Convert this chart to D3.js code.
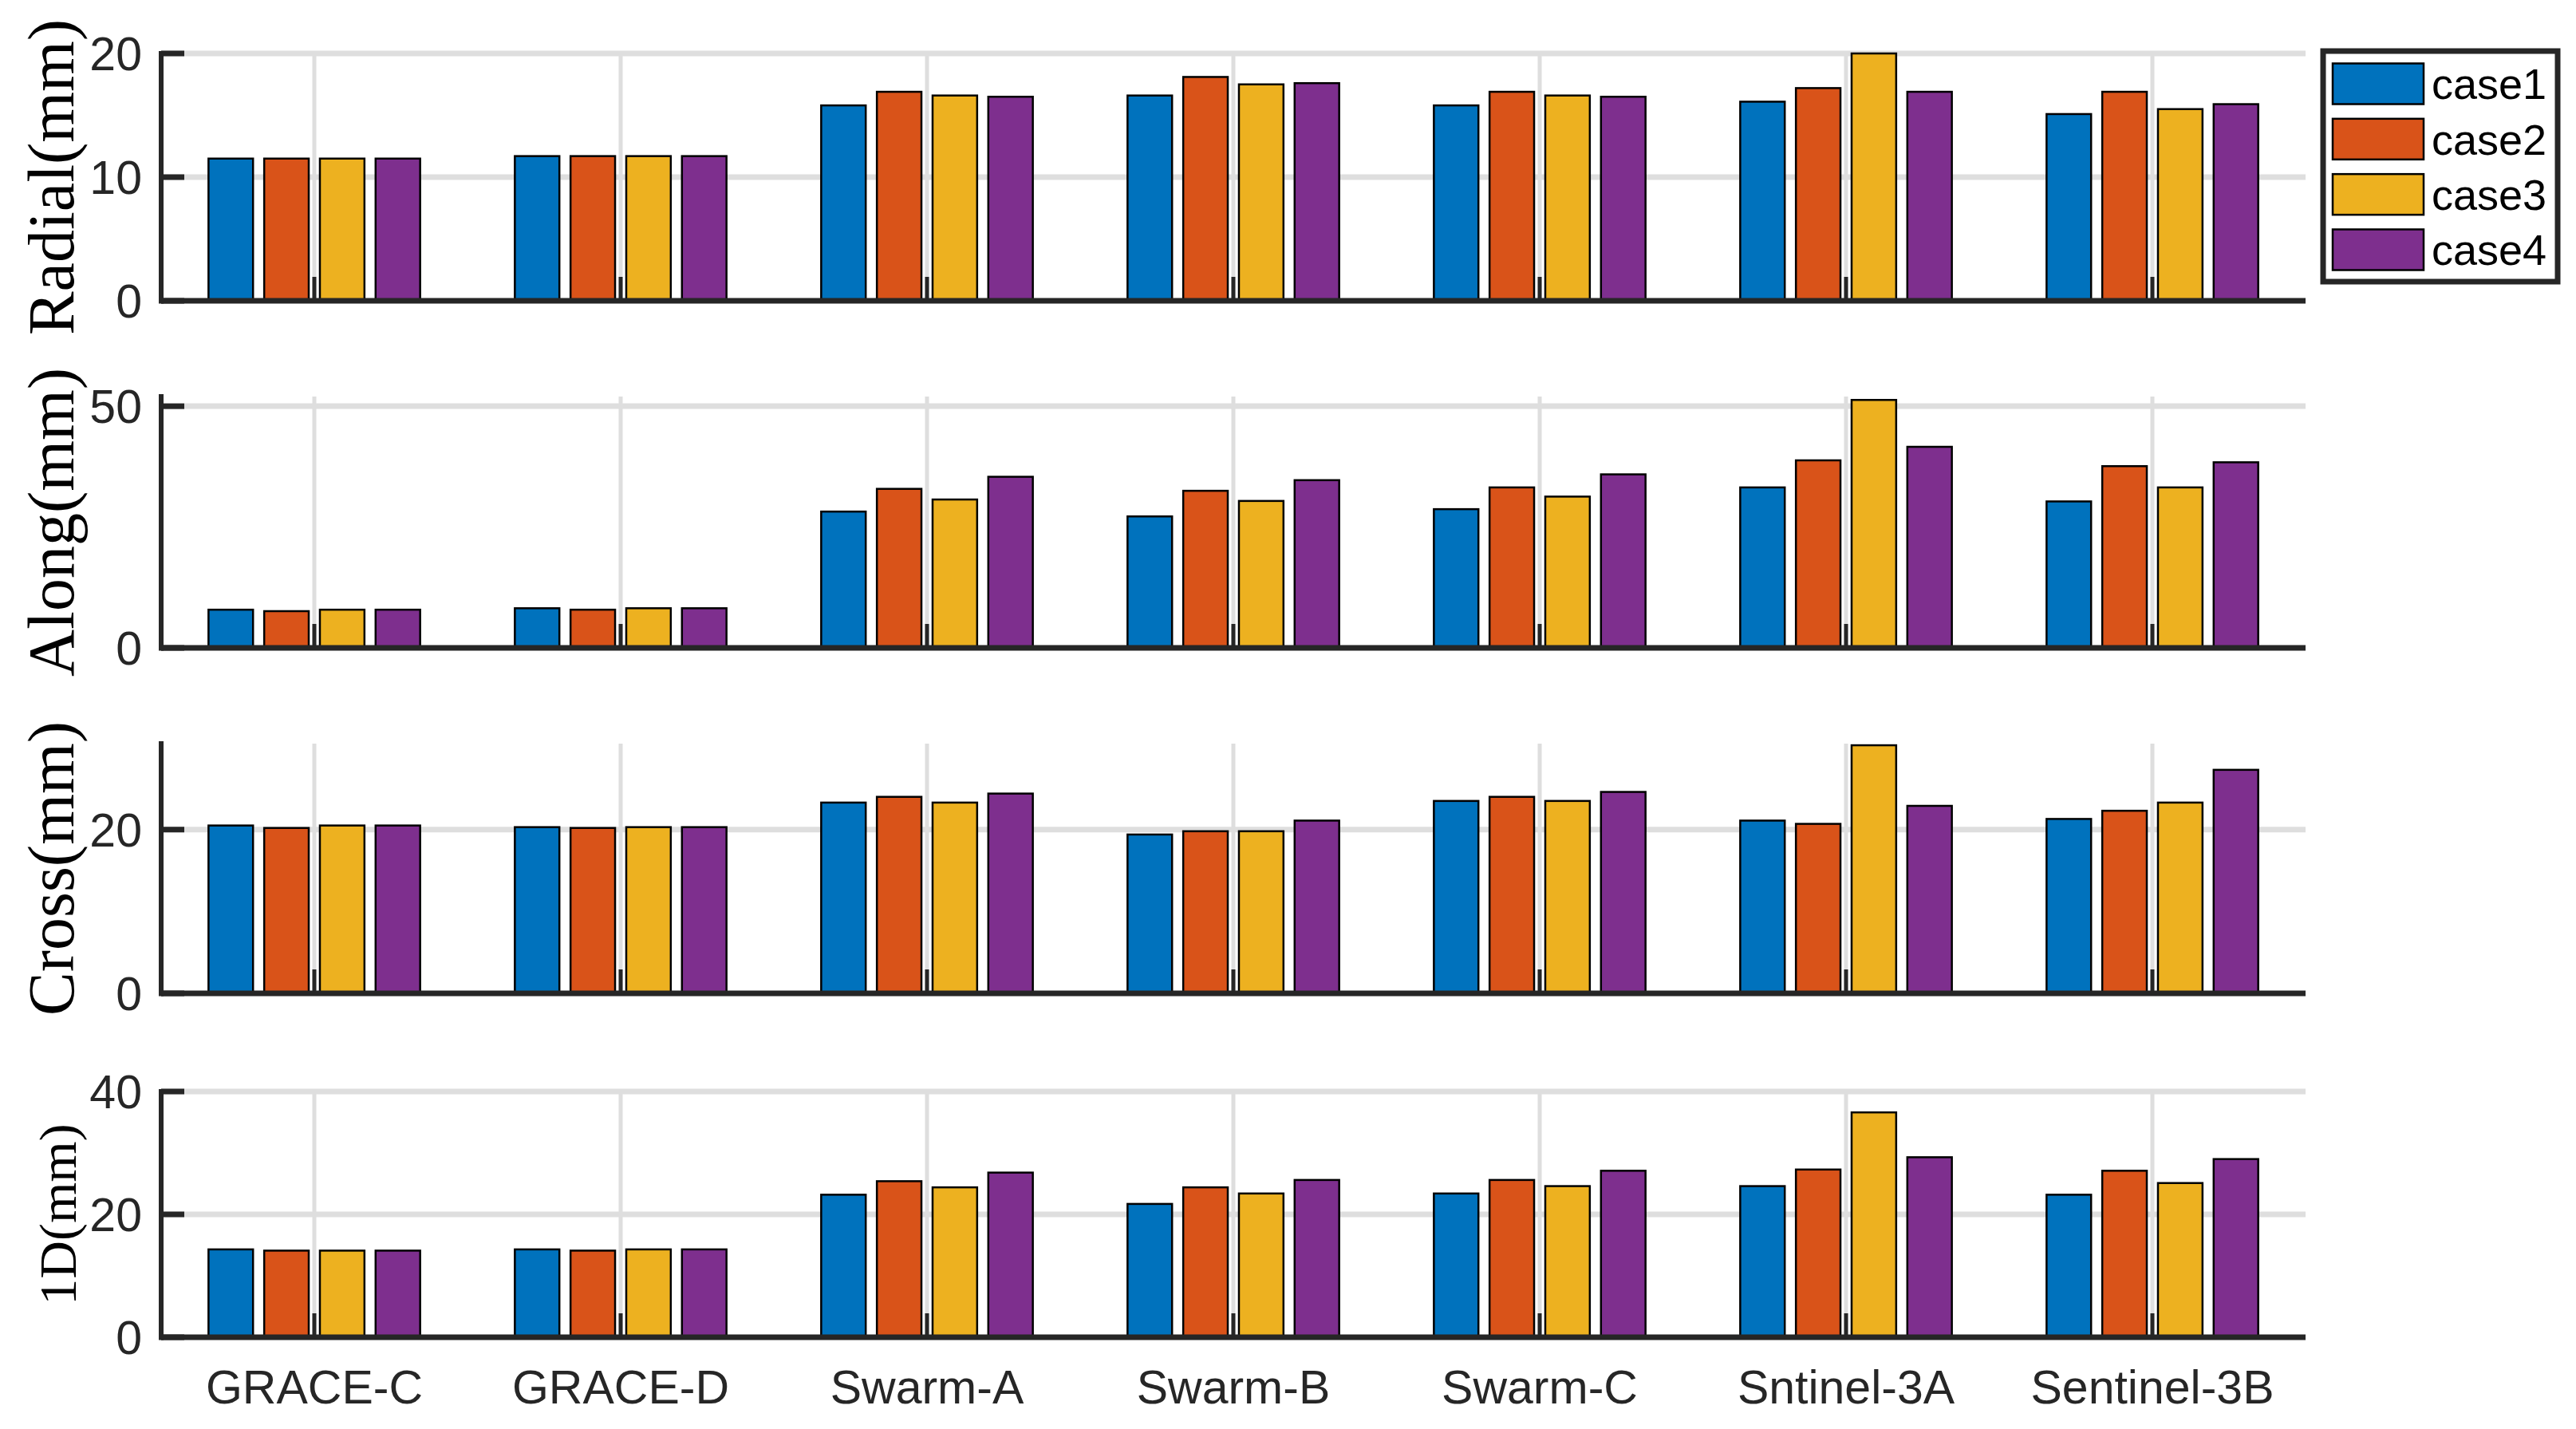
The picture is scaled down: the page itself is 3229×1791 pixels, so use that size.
<!DOCTYPE html>
<html>
<head>
<meta charset="utf-8">
<script src="https://cdn.jsdelivr.net/npm/d3@7/dist/d3.min.js"></script>
<style>
  html, body { margin: 0; padding: 0; background: #fff; }
  svg { display: block; }
</style>
</head>
<body>
<svg id="chart" width="3229" height="1791"></svg>
<script>
// ---------------- data ----------------
const satellites = ["GRACE-C", "GRACE-D", "Swarm-A", "Swarm-B", "Swarm-C", "Sntinel-3A", "Sentinel-3B"];
const cases = ["case1", "case2", "case3", "case4"];

// values per satellite, [case1, case2, case3, case4]
const radial = [
  [11.5, 11.5, 11.5, 11.5],
  [11.7, 11.7, 11.7, 11.7],
  [15.8, 16.9, 16.6, 16.5],
  [16.6, 18.1, 17.5, 17.6],
  [15.8, 16.9, 16.6, 16.5],
  [16.1, 17.2, 20.0, 16.9],
  [15.1, 16.9, 15.5, 15.9]
];
const along = [
  [7.9, 7.6, 7.9, 7.9],
  [8.2, 7.9, 8.2, 8.2],
  [28.2, 32.9, 30.7, 35.4],
  [27.2, 32.5, 30.4, 34.7],
  [28.7, 33.2, 31.3, 35.9],
  [33.2, 38.8, 51.3, 41.6],
  [30.3, 37.6, 33.2, 38.4]
];
const cross = [
  [20.5, 20.2, 20.5, 20.5],
  [20.3, 20.2, 20.3, 20.3],
  [23.3, 24.0, 23.3, 24.4],
  [19.4, 19.8, 19.8, 21.1],
  [23.5, 24.0, 23.5, 24.6],
  [21.1, 20.7, 30.3, 22.9],
  [21.3, 22.3, 23.3, 27.3]
];
const oneD = [
  [14.3, 14.1, 14.1, 14.1],
  [14.3, 14.1, 14.3, 14.3],
  [23.2, 25.4, 24.4, 26.8],
  [21.7, 24.4, 23.4, 25.6],
  [23.4, 25.6, 24.6, 27.1],
  [24.6, 27.3, 36.6, 29.3],
  [23.2, 27.1, 25.1, 29.0]
];

const radialTicks = [0, 10, 20];
const alongTicks = [0, 50];
const crossTicks = [0, 20];
const oneDTicks = [0, 20, 40];

const panelLabels = ["Radial(mm)", "Along(mm)", "Cross(mm)", "1D(mm)"];
const colors = ["#0072BD", "#D95319", "#EDB120", "#7E2F8E"];

// ---------------- layout ----------------
const svg = d3.select("#chart");
const axisColor = "#262626";
const gridColor = "#dedede";

const x = d3.scaleLinear().domain([0.5, satellites.length + 0.5]).range([202, 2890]);
const groupWidth = (x(2) - x(1)) * 0.7273;
const inner = d3.scaleBand().domain(cases)
  .range([-groupWidth / 2, groupWidth / 2])
  .paddingInner(0.2).paddingOuter(0.1);

const panels = [
  { data: radial, ticks: radialTicks, domain: [0, 20],   range: [377, 67],   label: panelLabels[0], lsize: 82, lx: 92 },
  { data: along,  ticks: alongTicks,  domain: [0, 52],   range: [812, 497],  label: panelLabels[1], lsize: 82, lx: 92 },
  { data: cross,  ticks: crossTicks,  domain: [0, 30.5], range: [1245, 932], label: panelLabels[2], lsize: 82, lx: 92 },
  { data: oneD,   ticks: oneDTicks,   domain: [0, 40],   range: [1676, 1368],label: panelLabels[3], lsize: 66, lx: 95 }
];

panels.forEach((p, pi) => {
  const y = d3.scaleLinear().domain(p.domain).range(p.range);
  const g = svg.append("g");
  const x0 = x.range()[0], x1 = x.range()[1];
  const yTop = y(p.domain[1]), yBot = y(0);

  // horizontal grid
  g.append("g").selectAll("line").data(p.ticks.filter(t => t > 0)).join("line")
    .attr("x1", x0).attr("x2", x1)
    .attr("y1", d => y(d)).attr("y2", d => y(d))
    .attr("stroke", gridColor).attr("stroke-width", 7);

  // vertical grid
  g.append("g").selectAll("line").data(satellites).join("line")
    .attr("x1", (d, i) => x(i + 1)).attr("x2", (d, i) => x(i + 1))
    .attr("y1", yTop).attr("y2", yBot)
    .attr("stroke", gridColor).attr("stroke-width", 5);

  // bars
  const groups = g.append("g").selectAll("g").data(p.data).join("g")
    .attr("transform", (d, i) => `translate(${x(i + 1)},0)`);
  groups.selectAll("rect").data(d => d.map((v, k) => ({ v, k }))).join("rect")
    .attr("x", d => inner(cases[d.k]))
    .attr("width", inner.bandwidth())
    .attr("y", d => y(d.v))
    .attr("height", d => yBot - y(d.v))
    .attr("fill", d => colors[d.k])
    .attr("stroke", "#000").attr("stroke-width", 2.5);

  // x-axis small ticks (inward)
  g.append("g").selectAll("line").data(satellites).join("line")
    .attr("x1", (d, i) => x(i + 1)).attr("x2", (d, i) => x(i + 1))
    .attr("y1", yBot).attr("y2", yBot - 30)
    .attr("stroke", axisColor).attr("stroke-width", 5);

  // axes lines
  g.append("line").attr("x1", x0).attr("x2", x1).attr("y1", yBot).attr("y2", yBot)
    .attr("stroke", axisColor).attr("stroke-width", 7);
  g.append("line").attr("x1", x0).attr("x2", x0).attr("y1", yTop - 3).attr("y2", yBot + 3.5)
    .attr("stroke", axisColor).attr("stroke-width", 6);

  // y ticks (inward) and labels
  g.append("g").selectAll("line").data(p.ticks).join("line")
    .attr("x1", x0).attr("x2", x0 + 29)
    .attr("y1", d => y(d)).attr("y2", d => y(d))
    .attr("stroke", axisColor).attr("stroke-width", 7);
  g.append("g").selectAll("text").data(p.ticks).join("text")
    .attr("x", x0 - 24).attr("y", d => y(d))
    .attr("dy", "0.36em")
    .attr("text-anchor", "end")
    .attr("font-family", "Liberation Sans, Arial, sans-serif")
    .attr("font-size", 59)
    .attr("fill", axisColor)
    .text(d => d);

  // y label
  const cy = (yTop + yBot) / 2;
  g.append("text")
    .attr("transform", `translate(${p.lx},${cy}) rotate(-90)`)
    .attr("text-anchor", "middle")
    .attr("font-family", "Liberation Serif, Times New Roman, serif")
    .attr("font-size", p.lsize)
    .attr("fill", "#000")
    .text(p.label);

  // x labels on last panel
  if (pi === panels.length - 1) {
    g.append("g").selectAll("text").data(satellites).join("text")
      .attr("x", (d, i) => x(i + 1)).attr("y", 1759)
      .attr("text-anchor", "middle")
      .attr("font-family", "Liberation Sans, Arial, sans-serif")
      .attr("font-size", 59)
      .attr("fill", axisColor)
      .text(d => d);
  }
});

// ---------------- legend ----------------
const lg = svg.append("g");
lg.append("rect").attr("x", 2912).attr("y", 64).attr("width", 294).attr("height", 289)
  .attr("fill", "#fff").attr("stroke", axisColor).attr("stroke-width", 7);
const ly = d3.scalePoint().domain(cases).range([105, 313]);
cases.forEach((c, k) => {
  lg.append("rect").attr("x", 2924).attr("y", ly(c) - 25.5).attr("width", 114).attr("height", 51)
    .attr("fill", colors[k]).attr("stroke", "#000").attr("stroke-width", 2.5);
  lg.append("text").attr("x", 3048).attr("y", ly(c)).attr("dy", "0.36em")
    .attr("font-family", "Liberation Sans, Arial, sans-serif")
    .attr("font-size", 54).attr("fill", "#000").text(c);
});
</script>
</body>
</html>
